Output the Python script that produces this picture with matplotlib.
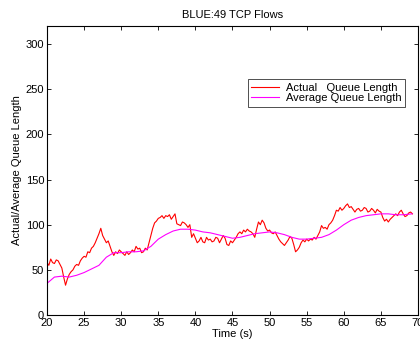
import numpy as np
import matplotlib
matplotlib.use("Agg")
import matplotlib.pyplot as plt

plt.rcParams['font.family'] = ['Liberation Sans', 'DejaVu Sans']

# Actual queue length, sampled every 0.25 s starting at t = 20 s (one row per second)
actual = [
    58, 55, 62, 58,   # 20
    57, 61, 60, 56,   # 21
    52, 42, 33, 40,   # 22
    45, 48, 50, 54,   # 23
    56, 55, 60, 63,   # 24
    65, 64, 70, 69,   # 25
    74, 76, 80, 85,   # 26
    90, 96, 88, 84,   # 27
    80, 82, 76, 70,   # 28
    66, 70, 68, 72,   # 29
    70, 68, 66, 70,   # 30
    67, 69, 72, 70,   # 31
    76, 73, 74, 69,   # 32
    70, 74, 72, 80,   # 33
    88, 96, 102, 104, # 34
    107, 108, 110, 107, # 35
    110, 109, 111, 106, # 36
    109, 112, 101, 100, # 37
    99, 103, 102, 100,  # 38
    97, 100, 86, 90,    # 39
    85, 80, 82, 86,     # 40
    81, 80, 86, 83,     # 41
    84, 81, 82, 86,     # 42
    85, 80, 84, 88,     # 43
    85, 78, 77, 82,     # 44
    80, 83, 86, 90,     # 45
    92, 90, 94, 92,     # 46
    95, 93, 92, 90,     # 47
    86, 95, 103, 100,   # 48
    105, 102, 96, 93,   # 49
    94, 91, 90, 92,     # 50
    88, 84, 81, 79,     # 51
    77, 80, 83, 87,     # 52
    85, 78, 70, 72,     # 53
    75, 80, 83, 81,     # 54
    84, 82, 84, 83,     # 55
    86, 84, 88, 92,     # 56
    99, 96, 97, 95,     # 57
    100, 102, 105, 110, # 58
    116, 115, 119, 116, # 59
    118, 121, 123, 119, # 60
    120, 117, 114, 117, # 61
    118, 115, 116, 119, # 62
    118, 114, 115, 118, # 63
    116, 113, 117, 115, # 64
    114, 108, 104, 106, # 65
    103, 106, 108, 110, # 66
    112, 110, 114, 116, # 67
    112, 109, 110, 113, # 68
    114, 112,           # 69
]
actual_start = 20.0
actual_step = 0.25

# Average queue length (1 s samples)
avg_time = [20, 21, 22, 23, 24, 25, 26, 27, 28, 29, 30, 31, 32, 33, 34, 35, 36, 37,
            38, 39, 40, 41, 42, 43, 44, 45, 46, 47, 48, 49, 50, 51, 52, 53, 54, 55,
            56, 57, 58, 59, 60, 61, 62, 63, 64, 65, 66, 67, 68, 69.2]
avg_vals = [35, 42, 43, 42, 44, 47, 51, 55, 64, 69, 69, 70, 70, 71, 76, 84, 89, 93,
            95, 95, 94, 92, 91, 89, 87, 85, 86, 88, 90, 91, 92, 91, 89, 86, 84, 84,
            85, 86, 89, 94, 100, 105, 108, 110, 111, 112, 112, 111, 111, 112]

x_ticks = [20, 25, 30, 35, 40, 45, 50, 55, 60, 65, 70]
y_ticks = [0, 50, 100, 150, 200, 250, 300]

actual_time = actual_start + actual_step * np.arange(len(actual))

fig = plt.figure(figsize=(4.2, 3.48), dpi=100)
ax = fig.add_axes([47/420, 33/348, 371/420, 289/348])

ax.plot(actual_time, actual, color='#ff0000', lw=0.8, label='Actual   Queue Length')
ax.plot(avg_time, avg_vals, color='#ff00ff', lw=0.8, label='Average Queue Length')

ax.set_xlim(20, 70)
ax.set_ylim(0, 320)
ax.set_xticks(x_ticks)
ax.set_yticks(y_ticks)
ax.tick_params(direction='in', top=True, right=True, labelsize=8, length=3, width=0.6, pad=2)
for s in ax.spines.values():
    s.set_linewidth(0.8)

ax.set_title('BLUE:49 TCP Flows', fontsize=8, pad=6)
ax.set_xlabel('Time (s)', fontsize=8, labelpad=1)
ax.set_ylabel('Actual/Average Queue Length', fontsize=8, labelpad=3)

leg = ax.legend(loc='upper left', bbox_to_anchor=(0.542, 0.815), fontsize=8,
                frameon=True, fancybox=False, edgecolor='black', borderpad=0.3,
                handlelength=2.5, handletextpad=0.6, labelspacing=0.05, borderaxespad=0)
leg.get_frame().set_linewidth(0.6)

fig.savefig('out.png', dpi=100)
